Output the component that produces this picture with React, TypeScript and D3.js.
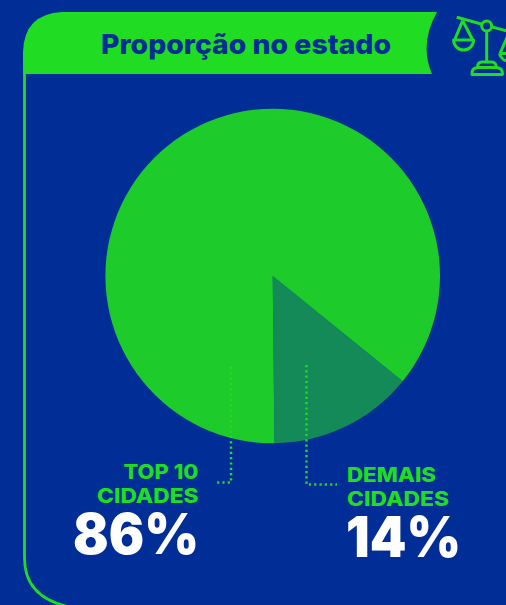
import React from "react";
import * as d3 from "d3";

// values
const categories = ["DEMAIS CIDADES", "TOP 10 CIDADES"];
const shares = [14, 86];
const sliceColors = ["#138A58", "#1DCB2B"];
const title = "Proporção no estado";

const width = 506;
const height = 605;
const navy = "#002D96";
const green = "#20DC22";
const font = "Inter, 'Open Sans', sans-serif";

const cx = 272.7;
const cy = 276;
const radius = 167.3;
const startDeg = 129;

function Scale() {
  // the little balance icon, cut off by the right edge
  return (
    <g fill="none" stroke={green} strokeWidth={3} strokeLinejoin="round">
      <path d="M456.7 17.3L520 34.5" />
      <path d="M486.7 31V62" />
      <circle cx={486.7} cy={26} r={5} fill={navy} />
      <path d="M462.7 20.7L454.6 40M462.7 20.7L472.8 40M453.6 40H473.6A10 10 0 0 1 453.6 40Z" />
      <path d="M509 33L500 53.5M499.5 53.5H520M499.5 53.5A10 10 0 0 0 519 53.5" />
      <path d="M472 74.5Q471.5 68 477.5 67.5H496.5Q503 68 502.5 74.5Z" />
      <path d="M477.5 67.5Q477.5 62 482 62H491.5Q496 62 496.5 67.5" />
    </g>
  );
}

function App() {
  const pie = d3
    .pie<number>()
    .sort(null)
    .startAngle((startDeg * Math.PI) / 180)
    .endAngle(((startDeg + 360) * Math.PI) / 180);
  const arc = d3.arc<d3.PieArcDatum<number>>().innerRadius(0).outerRadius(radius);
  const slices = pie(shares);
  const [restLabel, topLabel] = categories.map((c) => {
    const i = c.lastIndexOf(" ");
    return [c.slice(0, i), c.slice(i + 1)];
  });

  return (
    <svg
      width={width}
      height={height}
      style={{ position: "fixed", left: 0, top: 0, background: navy }}
    >
      <path
        d="M24.5 52V558Q24.5 596 66 606"
        fill="none"
        stroke={green}
        strokeWidth={2.8}
      />
      <path d="M23 74V52Q24 14 62 12H437Q419 44 432 74Z" fill={green} />
      <text
        x={101}
        y={53.5}
        textLength={290}
        lengthAdjust="spacingAndGlyphs"
        fontFamily={font}
        fontWeight={800}
        fontSize={27.5}
        fill={navy}
      >
        {title}
      </text>
      <Scale />

      <g transform={`translate(${cx},${cy})`}>
        {slices.map((s, i) => (
          <path key={categories[i]} d={arc(s) ?? ""} fill={sliceColors[i]} />
        ))}
      </g>

      <g fill="none" stroke={green} strokeWidth={2.4} strokeDasharray="2.2 3.1">
        <path d="M231 367V482.5H215" />
        <path d="M306.5 365V484.5H337" />
      </g>

      <g fontFamily={font} fontWeight={800} fontSize={20} fill={green}>
        <text x={123.5} y={479} textLength={75} lengthAdjust="spacingAndGlyphs">{topLabel[0]}</text>
        <text x={97} y={503} textLength={101.5} lengthAdjust="spacingAndGlyphs">{topLabel[1]}</text>
        <text x={347} y={481.5} textLength={89} lengthAdjust="spacingAndGlyphs">{restLabel[0]}</text>
        <text x={347} y={505.5} textLength={102} lengthAdjust="spacingAndGlyphs">{restLabel[1]}</text>
      </g>
      <g fontFamily={font} fontWeight={900} fontSize={56} fill="#fff">
        <text x={73} y={554} textLength={126} lengthAdjust="spacingAndGlyphs">{shares[1]}%</text>
        <text x={346} y={557} textLength={115} lengthAdjust="spacingAndGlyphs">{shares[0]}%</text>
      </g>
    </svg>
  );
}

export default App;
